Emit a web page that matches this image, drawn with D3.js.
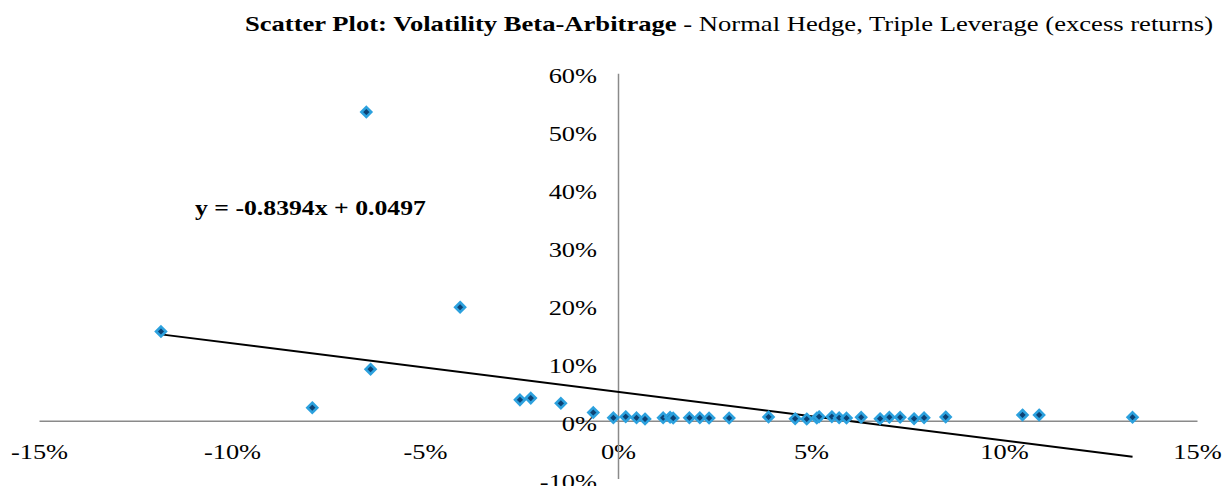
<!DOCTYPE html>
<html>
<head>
<meta charset="utf-8">
<script src="https://cdn.jsdelivr.net/npm/d3@7"></script>
<style>
    body { margin: 0; background: #fff; }
    svg { display: block; }
</style>
</head>
<body>
<div id="graph"></div>
<script>
// Market excess return (x) vs strategy excess return (y), as fractions
const xValues = [-0.1184, -0.0652, -0.0409, -0.0641, -0.0792, -0.0254, -0.0226, -0.0148, -0.0064,
    -0.0012, 0.0020, 0.0048, 0.0070, 0.0117, 0.0135, 0.0143, 0.0185, 0.0212, 0.0236, 0.0288,
    0.0390, 0.0459, 0.0489, 0.0515, 0.0521, 0.0554, 0.0573, 0.0592, 0.0630, 0.0679, 0.0703,
    0.0731, 0.0767, 0.0793, 0.0849, 0.1048, 0.1091, 0.1333];
const yValues = [0.154, 0.533, 0.196, 0.089, 0.0225, 0.036, 0.039, 0.030, 0.014,
    0.005, 0.007, 0.005, 0.003, 0.005, 0.006, 0.0045, 0.005, 0.005, 0.0045, 0.0045,
    0.0065, 0.0035, 0.003, 0.0045, 0.007, 0.007, 0.005, 0.0045, 0.006, 0.0035, 0.006,
    0.006, 0.0035, 0.005, 0.0065, 0.010, 0.010, 0.006];
const xTicks = [-0.15, -0.10, -0.05, 0, 0.05, 0.10, 0.15];
const yTicks = [-0.10, 0, 0.10, 0.20, 0.30, 0.40, 0.50, 0.60];
const slope = -0.8394;
const intercept = 0.0497;

const serif = "'Liberation Serif', 'Times New Roman', Times, serif";
const stretch = 1.2;  // the original text is a bit wider than Times

function showGraph() {
    const width = 1229, height = 486;

    const svg = d3.select("#graph").append("svg")
        .attr("width", width)
        .attr("height", height)
        .style("font-family", serif);

    // scales
    const x = d3.scaleLinear().domain([-0.15, 0.15]).range([39, 1197]);
    const y = d3.scaleLinear().domain([-0.10, 0.60]).range([478.6, 73.3]);
    const pct = d => Math.round(d * 100) + "%";

    // x axis on y = 0
    const gx = svg.append("g")
        .attr("class", "axis axis--x")
        .attr("transform", "translate(0," + y(0) + ")")
        .call(d3.axisBottom(x).tickValues(xTicks).tickFormat(pct).tickSize(0).tickPadding(23));
    gx.attr("font-family", serif).attr("font-size", 22);
    gx.select(".domain").attr("stroke", "#8a8a8a").attr("stroke-width", 1.5);
    gx.selectAll("text").attr("fill", "#000").attr("transform", "scale(" + stretch + ",1)");

    // y axis on x = 0
    const gy = svg.append("g")
        .attr("class", "axis axis--y")
        .attr("transform", "translate(" + x(0) + ",0)")
        .call(d3.axisLeft(y).tickValues(yTicks).tickFormat(pct).tickSize(0));
    gy.attr("font-family", serif).attr("font-size", 22);
    gy.select(".domain").attr("stroke", "#8a8a8a").attr("stroke-width", 1.5);
    gy.selectAll("text")
        .attr("fill", "#000")
        .attr("x", -21 / stretch)
        .attr("dy", "0.43em")
        .attr("transform", "scale(" + stretch + ",1)");

    // trendline over the data range
    const ext = d3.extent(xValues);
    svg.append("line")
        .attr("x1", x(ext[0])).attr("y1", y(slope * ext[0] + intercept))
        .attr("x2", x(ext[1])).attr("y2", y(slope * ext[1] + intercept))
        .attr("stroke", "#000")
        .attr("stroke-width", 2);

    // diamond markers
    const points = xValues.map((v, i) => ({x: v, y: yValues[i]}));
    const diamond = d3.symbol().type(d3.symbolDiamond2).size(62);
    svg.append("g").selectAll("path").data(points).enter()
        .append("path")
        .attr("d", diamond)
        .attr("transform", d => "translate(" + x(d.x) + "," + y(d.y) + ")")
        .attr("fill", "#0d4274")
        .attr("stroke", "#2ca1de")
        .attr("stroke-width", 2.6);

    // equation label
    svg.append("text")
        .attr("transform", "translate(195,215) scale(1.17,1)")
        .style("font-size", "22px")
        .style("font-weight", "bold")
        .text("y = -0.8394x + 0.0497");

    // title
    const title = svg.append("text")
        .attr("transform", "translate(1213,31) scale(1.21,1)")
        .attr("text-anchor", "end")
        .style("font-size", "22px");
    title.append("tspan").style("font-weight", "bold").text("Scatter Plot: Volatility Beta-Arbitrage");
    title.append("tspan").text(" - Normal Hedge, Triple Leverage (excess returns)");
}

showGraph();
</script>
</body>
</html>
